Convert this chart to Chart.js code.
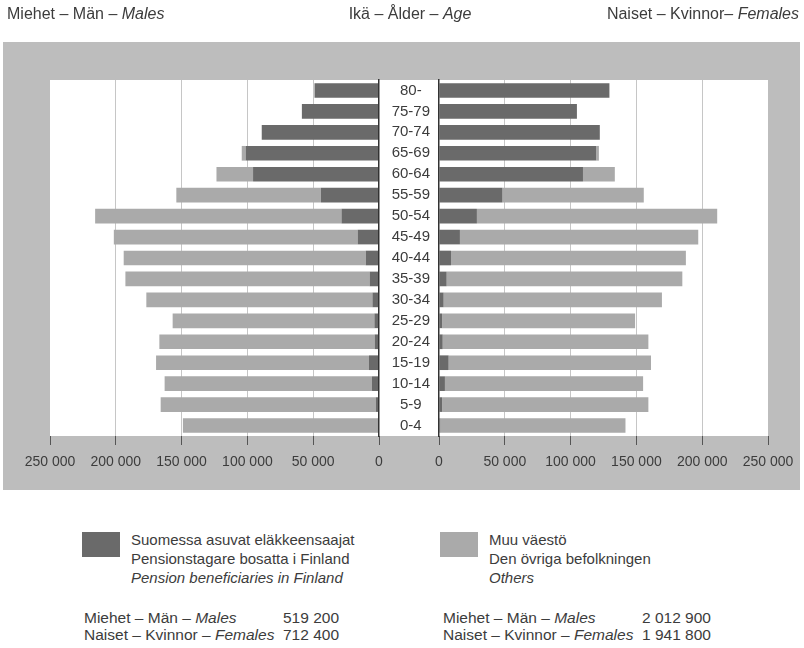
<!DOCTYPE html>
<html>
<head>
<meta charset="utf-8">
<script src="https://cdn.jsdelivr.net/npm/chart.js@4.4.1/dist/chart.umd.min.js"></script>
<style>
html,body{margin:0;padding:0;background:#fff;}
body{width:804px;height:648px;position:relative;overflow:hidden;font-family:'Liberation Sans',Arial,sans-serif;color:#3c3c3c;}
.abs{position:absolute;white-space:nowrap;}
#frame{left:3px;top:42px;width:797px;height:448px;background:#bdbdbd;}
#panel{left:50px;top:80px;width:718px;height:356px;background:#fff;}
#leftWrap{left:0;top:0;width:400px;height:500px;}
#rightWrap{left:380px;top:0;width:424px;height:500px;}
.hdr{font-size:16px;line-height:16px;top:6px;}
.leg{font-size:15px;line-height:19px;top:530px;}
.sq{width:38px;height:25px;top:532px;}
.tot{font-size:15.5px;line-height:16.5px;top:610px;}
i{font-style:italic;}
</style>
</head>
<body>
<div class="abs" id="frame"></div>
<div class="abs" id="panel"></div>
<div class="abs" id="leftWrap"><canvas id="leftChart" width="400" height="500" style="width:400px;height:500px"></canvas></div>
<div class="abs" id="rightWrap"><canvas id="rightChart" width="424" height="500" style="width:424px;height:500px"></canvas></div>

<div class="abs hdr" style="left:7px;">Miehet – Män – <i>Males</i></div>
<div class="abs hdr" style="left:410px;transform:translateX(-50%);">Ikä – Ålder – <i>Age</i></div>
<div class="abs hdr" style="right:5px;">Naiset – Kvinnor– <i>Females</i></div>

<div class="abs sq" style="left:82px;background:#6a6a6a;"></div>
<div class="abs leg" style="left:131px;">Suomessa asuvat eläkkeensaajat<br>Pensionstagare bosatta i Finland<br><i>Pension beneficiaries in Finland</i></div>
<div class="abs sq" style="left:440px;background:#aaaaaa;"></div>
<div class="abs leg" style="left:489px;">Muu väestö<br>Den övriga befolkningen<br><i>Others</i></div>

<div class="abs tot" style="left:84px;">Miehet – Män – <i>Males</i><br>Naiset – Kvinnor – <i>Females</i></div>
<div class="abs tot" style="left:283px;">519 200<br>712 400</div>
<div class="abs tot" style="left:443px;">Miehet – Män – <i>Males</i><br>Naiset – Kvinnor – <i>Females</i></div>
<div class="abs tot" style="left:642px;">2 012 900<br>1 941 800</div>

<script>
// ---- data ----
const ageGroups = ['80-','75-79','70-74','65-69','60-64','55-59','50-54','45-49','40-44','35-39','30-34','25-29','20-24','15-19','10-14','5-9','0-4'];
const malePension   = [49000, 58600, 89100, 101300, 95700, 44200, 28500, 16200, 10100, 7100, 5000, 3500, 3300, 7600, 5300, 2500, 1000];
const maleOthers    = [0, 0, 0, 3000, 27800, 109800, 187200, 185300, 183900, 185600, 171800, 153300, 163600, 161800, 157600, 163400, 148000];
const femalePension = [129500, 104800, 122200, 119400, 109400, 48200, 28800, 15900, 9100, 5800, 3500, 2300, 2800, 7300, 4500, 2300, 1000];
const femaleOthers  = [0, 0, 0, 2100, 24200, 107400, 182600, 181100, 178500, 179100, 165900, 146700, 156300, 153800, 150600, 156800, 140700];
const axisTicks = [0, 50000, 100000, 150000, 200000, 250000];
const seriesNames = ['Suomessa asuvat eläkkeensaajat', 'Muu väestö'];

const FONT = "'Liberation Sans',Arial,sans-serif";
const TEXT = '#3c3c3c';
const DARK = '#6a6a6a';
const LIGHT = '#aaaaaa';
const AXIS_MAX = axisTicks[axisTicks.length - 1];

function fmt(v){ return String(v).replace(/\B(?=(\d{3})+(?!\d))/g, ' '); }

function xAxis(reverse){
  return {
    type:'linear', min:0, max:AXIS_MAX, reverse:reverse, stacked:true,
    afterBuildTicks: s => { s.ticks = axisTicks.map(v => ({value:v})); },
    ticks:{ callback: v => fmt(v), padding:9, color:TEXT, font:{family:FONT, size:14}, maxRotation:0, autoSkip:false },
    grid:{
      color: c => (c.tick && (c.tick.value === 0 || c.tick.value === AXIS_MAX)) ? 'rgba(0,0,0,0)' : '#c6c6c6',
      tickColor:'#555', tickLength:9, lineWidth:1
    },
    border:{display:false},
    afterFit: s => { s.height = 64; }
  };
}

function datasets(pension, others){
  return [
    {label:seriesNames[0], data:pension, backgroundColor:DARK, borderWidth:0, barPercentage:0.7, categoryPercentage:1},
    {label:seriesNames[1], data:others, backgroundColor:LIGHT, borderWidth:0, barPercentage:0.7, categoryPercentage:1}
  ];
}

const common = {
  indexAxis:'y', responsive:false, maintainAspectRatio:false, animation:false, devicePixelRatio:1,
  plugins:{legend:{display:false}, tooltip:{enabled:false}, title:{display:false}}
};

new Chart(document.getElementById('leftChart'), {
  type:'bar',
  data:{labels:ageGroups, datasets:datasets(malePension, maleOthers)},
  options:Object.assign({}, common, {
    layout:{padding:{top:80, left:50, right:21, bottom:0}},
    scales:{
      x:xAxis(true),
      y:{type:'category', position:'right', stacked:true,
         ticks:{display:false}, grid:{display:false, drawTicks:false},
         border:{display:true, color:'#333', width:1.5, z:1},
         afterFit: s => { s.width = 0; }}
    }
  })
});

new Chart(document.getElementById('rightChart'), {
  type:'bar',
  data:{labels:ageGroups, datasets:datasets(femalePension, femaleOthers)},
  options:Object.assign({}, common, {
    layout:{padding:{top:80, left:0, right:36, bottom:0}},
    scales:{
      x:xAxis(false),
      y:{type:'category', position:'left', stacked:true,
         ticks:{padding:9, crossAlign:'center', color:TEXT, font:{family:FONT, size:15}, autoSkip:false},
         grid:{display:false, drawTicks:false},
         border:{display:true, color:'#333', width:1.5, z:1},
         afterFit: s => { s.width = 59; }}
    }
  })
});
</script>
</body>
</html>
